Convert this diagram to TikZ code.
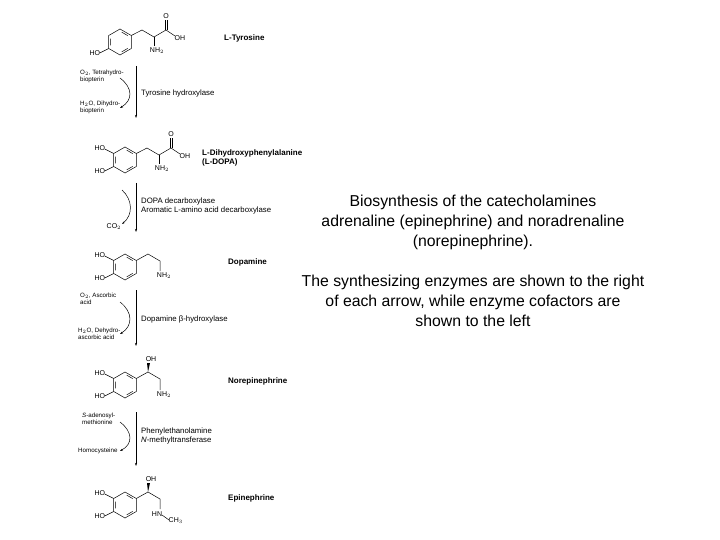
\documentclass[tikz,border=0pt]{standalone}
\usepackage{fontspec}
\setmainfont{Liberation Sans}
\usetikzlibrary{arrows.meta}
\newcommand\benz[2]{\begin{scope}[shift={#1}]
\draw[bond] (330:13)--(270:13)--(210:13)--(150:13)--(90:13)--(30:13)--cycle;
\draw[bond] (320:10)--(280:10) (200:10)--(160:10) (80:10)--(40:10);
\draw[bond] (150:13)--++(-9,4.5); \node[lab,anchor=east] at ($(150:13)+(-8,5)$) {HO};
\ifx#2y\draw[bond] (210:13)--++(-9,-4.5); \node[lab,anchor=east] at ($(210:13)+(-8,-5)$) {HO};\fi
\end{scope}}
\usetikzlibrary{calc}
\tikzset{bond/.style={line width=0.5pt},lab/.style={font=\fontsize{7}{8}\selectfont,inner sep=0.5pt},
 nm/.style={font=\bfseries\fontsize{8}{9}\selectfont,anchor=west,inner sep=0pt,align=left},
 enz/.style={font=\fontsize{7.8}{9}\selectfont,anchor=west,inner sep=0pt,align=left},
 cof/.style={font=\fontsize{6.2}{6.8}\selectfont,anchor=north west,inner sep=0pt,align=left},
 rx/.style={line width=0.5pt,-{Stealth[length=3pt,width=2pt]}},
 side/.style={line width=0.5pt,-{Stealth[length=3pt,width=2pt]}},
 body/.style={font=\fontsize{15.8}{20}\selectfont,align=center}}
\begin{document}
\begin{tikzpicture}[x=1pt,y=-1pt]
\useasboundingbox (0,0) rectangle (720,540);
\fill[white] (0,0) rectangle (720,540);
% Tyrosine
\benz{(120,42)}{n}
\draw[bond] (131.3,35.5)--(142,30)--(154,37)--(166,30)--(175,36);
\draw[bond] (154,37)--(154,46) (165,30)--(165,20) (167.5,30)--(167.5,20);
\node[lab] (tO) at (166,16) {O}; \node[lab,anchor=west] (tOH) at (174,38) {OH};
\node[lab] (tN) at (157,51) {NH$_2$};
\node[nm] (tyr) at (224,38) {L-Tyrosine};
% L-DOPA
\benz{(125,160)}{y}
\draw[bond] (136.3,153.5)--(147,148)--(159,155)--(171,148)--(180,154);
\draw[bond] (159,155)--(159,164) (170,148)--(170,138) (172.5,148)--(172.5,138);
\node[lab] (dO) at (171,134) {O}; \node[lab,anchor=west] (dOH) at (179,156) {OH};
\node[lab] (dN) at (162,169) {NH$_2$};
\node[nm] (dopa) at (202,158) {L-Dihydroxyphenylalanine\\(L-DOPA)};
% Dopamine
\benz{(125,267)}{y}
\draw[bond] (136.3,260.5)--(148,254)--(160,261)--(160,271);
\node[lab] (mN) at (164,276) {NH$_2$};
\node[nm] (dopamine) at (228,262) {Dopamine};
% Norepinephrine
\benz{(125,385)}{y}
\draw[bond] (136.3,378.5)--(148,372)--(160,379)--(160,390);
\fill (148,372)--(147,363)--(150,363)--cycle;
\node[lab] (nOH) at (151,359) {OH};
\node[lab] (nN) at (164,395) {NH$_2$};
\node[nm] (norepi) at (228,381) {Norepinephrine};
% Epinephrine
\benz{(125,505)}{y}
\draw[bond] (136.3,498.5)--(148,492)--(160,499)--(160,509);
\fill (148,492)--(147,483)--(150,483)--cycle;
\node[lab] (eOH) at (151,479) {OH};
\node[lab] (eN) at (157,514) {HN};
\draw[bond] (162,515)--(169,520);
\node[lab,anchor=west] (eC) at (168,521) {CH$_3$};
\node[nm] (epi) at (228,498) {Epinephrine};
% arrows
\coordinate (a1) at (136,66); \coordinate (b1) at (136,118);
\draw[rx] (a1)--(b1);
\node[enz] (e1) at (141,93) {Tyrosine hydroxylase};
\node[cof] (c1) at (80,70) {O$_2$, Tetrahydro-\\biopterin};
\node[cof] (d1) at (80,101) {H$_2$O, Dihydro-\\biopterin};
\draw[side] (120,78) .. controls (133,88) and (133,100) .. (120,108);
\coordinate (a2) at (136,183); \coordinate (b2) at (136,232);
\draw[rx] (a2)--(b2);
\node[enz] (e2) at (141,206) {DOPA decarboxylase\\Aromatic L-amino acid decarboxylase};
\node[lab,anchor=west] (c2) at (106,227) {CO$_2$};
\draw[side] (122,190) .. controls (133,200) and (133,215) .. (122,224);
\coordinate (a3) at (136,290); \coordinate (b3) at (136,346);
\draw[rx] (a3)--(b3);
\node[enz] (e3) at (141,319) {Dopamine β-hydroxylase};
\node[cof] (c3) at (80,293) {O$_2$, Ascorbic\\acid};
\node[cof] (d3) at (78,328) {H$_2$O, Dehydro-\\ascorbic acid};
\draw[side] (120,302) .. controls (133,312) and (133,326) .. (120,334);
\coordinate (a4) at (136,412); \coordinate (b4) at (136,466);
\draw[rx] (a4)--(b4);
\node[enz] (e4) at (141,436) {Phenylethanolamine\\\textit{N}-methyltransferase};
\node[cof] (c4) at (82,413) {\textit{S}-adenosyl-\\methionine};
\node[cof] (d4) at (78,448) {Homocysteine};
\draw[side] (120,422) .. controls (133,432) and (133,444) .. (120,451);
% text
\node[body] (t1) at (473,222) {Biosynthesis of the catecholamines\\adrenaline (epinephrine) and noradrenaline\\(norepinephrine).};
\node[body] (t2) at (473,301) {The synthesizing enzymes are shown to the right\\of each arrow, while enzyme cofactors are\\shown to the left};
\end{tikzpicture}
\end{document}
